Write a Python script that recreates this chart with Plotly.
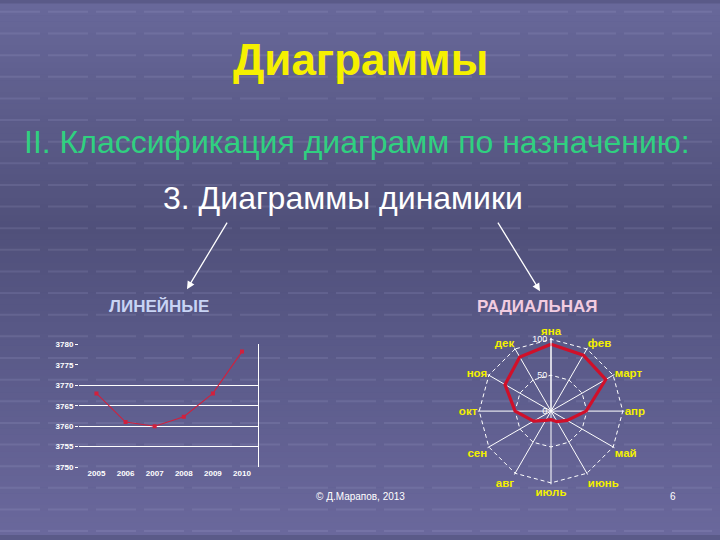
import plotly.graph_objects as go

# ---- data ----
years = ["2005", "2006", "2007", "2008", "2009", "2010"]
line_values = [3768, 3761, 3760, 3762.3, 3768, 3778.2]
y_tick_vals = [3750, 3755, 3760, 3765, 3770, 3775, 3780]
y_grid_vals = [3755, 3760, 3765, 3770, 3780]

months = ["яна", "фев", "март", "апр", "май", "июнь", "июль", "авг", "сен", "окт", "ноя", "дек"]
radar_values = [93, 90, 88, 49, 26, 17, 12, 15, 28, 50, 74, 87]
radar_ticks = [0, 50, 100]

W, H = 720, 540

fig = go.Figure()

# line chart
fig.add_trace(go.Scatter(
    x=years, y=line_values, mode="lines+markers",
    line=dict(color="#d2203c", width=1.1),
    marker=dict(color="#d2203c", size=4, symbol="square"),
    xaxis="x", yaxis="y", showlegend=False, hoverinfo="skip"))
# invisible trace to carry grid axis
fig.add_trace(go.Scatter(
    x=years, y=line_values, mode="lines", line=dict(width=0, color="rgba(0,0,0,0)"),
    xaxis="x", yaxis="y2", showlegend=False, hoverinfo="skip"))

# radar
fig.add_trace(go.Scatterpolar(
    r=radar_values + radar_values[:1], theta=months + months[:1],
    mode="lines", line=dict(color="#d0102a", width=3.2),
    showlegend=False, hoverinfo="skip"))

# ---- background gradient ----
shapes = []
stops = [(0, (104, 104, 154)), (110, (92, 92, 138)), (230, (80, 80, 122)),
         (330, (88, 88, 134)), (540, (106, 104, 156))]
def col_at(y):
    for (y0, c0), (y1, c1) in zip(stops[:-1], stops[1:]):
        if y0 <= y <= y1:
            t = (y - y0) / (y1 - y0)
            return tuple(int(round(c0[i] + (c1[i] - c0[i]) * t)) for i in range(3))
    return stops[-1][1]
band = 6
for yy in range(0, H, band):
    c = col_at(yy + band / 2)
    shapes.append(dict(type="rect", xref="paper", yref="paper",
                       x0=0, x1=1, y0=1 - (yy + band) / H, y1=1 - yy / H + 0.001,
                       fillcolor="rgb(%d,%d,%d)" % c, line=dict(width=0), layer="below"))
# faint tile lines
for yy in range(8, H, 22):
    shapes.append(dict(type="line", xref="paper", yref="paper", x0=0, x1=1,
                       y0=1 - yy / H, y1=1 - yy / H,
                       line=dict(color="rgba(200,200,235,0.12)", width=2, dash="40px,8px"),
                       layer="below"))

R_EXT = 102
rad_px = 73 * R_EXT / 100
cx, cy = 551, 414

fig.update_layout(
    width=W, height=H, margin=dict(l=0, r=0, t=0, b=0),
    paper_bgcolor="#5a5a88", plot_bgcolor="rgba(0,0,0,0)",
    shapes=shapes,
    xaxis=dict(domain=[79 / W, 258 / W], range=[-0.6, 5.55], showgrid=False,
               zeroline=False, showline=False, ticks="",
               tickfont=dict(family="Liberation Sans", size=8, color="white", weight="bold")),
    yaxis=dict(domain=[69 / H, 194 / H], range=[3750, 3780], tickvals=y_tick_vals,
               showgrid=False, zeroline=False, showline=False, ticks="outside",
               ticklen=3, tickcolor="white",
               tickfont=dict(family="Liberation Sans", size=8, color="white", weight="bold")),
    yaxis2=dict(domain=[69 / H, 194 / H], range=[3750, 3780], overlaying="y",
                side="right", tickvals=y_grid_vals, showticklabels=False,
                showgrid=True, gridcolor="white", gridwidth=1, zeroline=False,
                showline=True, linecolor="white", linewidth=1, ticks=""),
    polar=dict(
        domain=dict(x=[(cx - rad_px) / W, (cx + rad_px) / W],
                    y=[(H - cy - rad_px) / H, (H - cy + rad_px) / H]),
        bgcolor="rgba(0,0,0,0)", gridshape="linear",
        angularaxis=dict(rotation=90, direction="clockwise", categoryorder="array",
                         categoryarray=months, showline=False, ticks="",
                         gridcolor="white", gridwidth=1,
                         tickfont=dict(family="Liberation Sans", size=11.5, color="#f4f000",
                                       weight="bold")),
        radialaxis=dict(range=[0, R_EXT], tickvals=radar_ticks, angle=90, tickangle=90,
                        side="counterclockwise",
                        showline=True, linecolor="white", ticks="",
                        gridcolor="white", gridwidth=1, griddash="4px,3px",
                        tickfont=dict(family="Liberation Sans", size=9, color="white")),
    ),
)

def txt(text, x, y, size, color, family="Liberation Sans"):
    return dict(text=text, x=x / W, y=1 - y / H, xref="paper", yref="paper",
                xanchor="center", yanchor="middle", showarrow=False,
                font=dict(family=family, size=size, color=color))

ann = [
    txt("<b>Диаграммы</b>", 360, 56, 44, "#f6f000"),
    txt("II. Классификация диаграмм по назначению:", 357, 140, 32, "#30d080"),
    txt("3. Диаграммы динамики", 343, 197, 32, "white"),
    txt("<b>ЛИНЕЙНЫЕ</b>", 159, 308, 17, "#c8d4f4"),
    txt("<b>РАДИАЛЬНАЯ</b>", 537, 308, 17, "#f2cce0"),
    txt("© Д.Марапов, 2013", 360, 501, 10, "white"),
    txt("6", 673, 501, 10, "white"),
]
# arrows
ann.append(dict(text="", x=187 / W, y=1 - 290 / H, xref="paper", yref="paper",
                showarrow=True, ax=41, ay=-68, arrowhead=2, arrowsize=1.2,
                arrowwidth=1.3, arrowcolor="white"))
ann.append(dict(text="", x=540 / W, y=1 - 292 / H, xref="paper", yref="paper",
                showarrow=True, ax=-43, ay=-70, arrowhead=2, arrowsize=1.2,
                arrowwidth=1.3, arrowcolor="white"))
fig.update_layout(annotations=ann)

fig.write_html("out.html", config={"displayModeBar": False},
               post_script="document.body.style.margin='0';")
